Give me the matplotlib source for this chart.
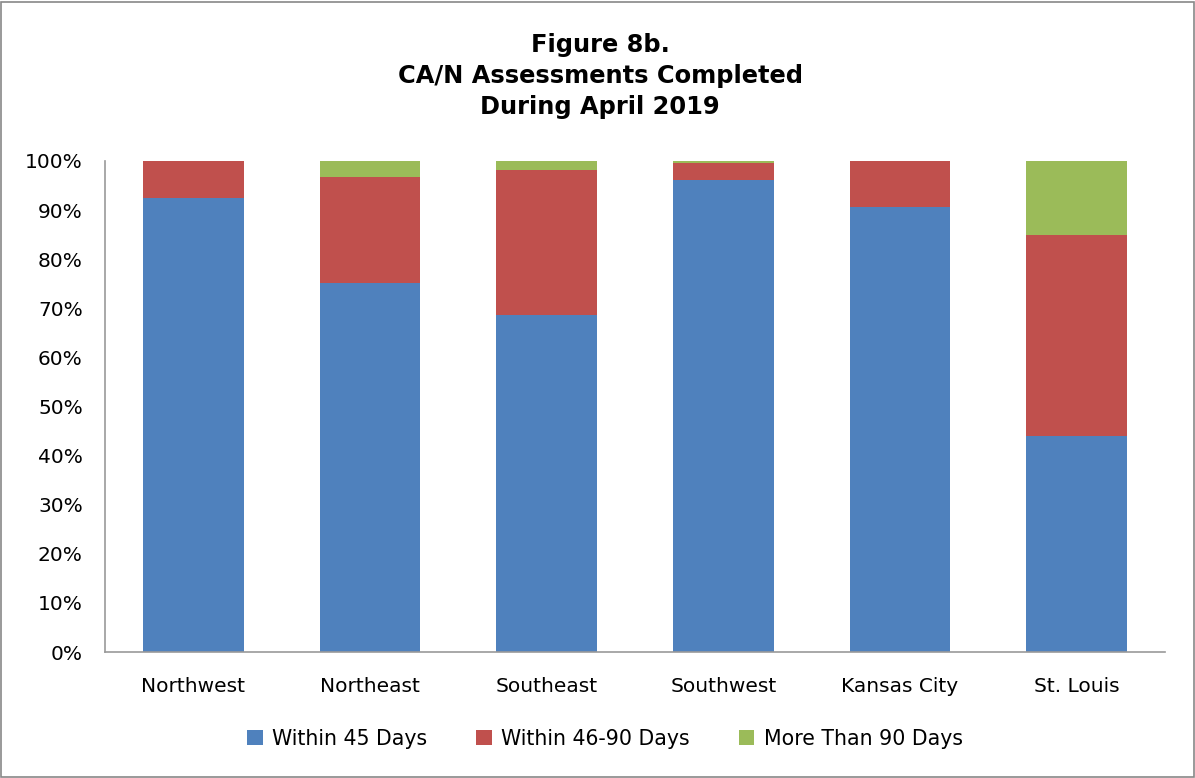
import matplotlib
matplotlib.use("Agg")
import matplotlib.pyplot as plt
from matplotlib.patches import Rectangle
import numpy as np

categories = ["Northwest", "Northeast", "Southeast", "Southwest", "Kansas City", "St. Louis"]
within_45 = [92.5, 75.2, 68.6, 96.1, 90.6, 44.0]
within_46_90 = [7.5, 21.5, 29.6, 3.5, 9.4, 40.9]
more_90 = [0.0, 3.3, 1.8, 0.4, 0.0, 15.1]
series_labels = ["Within 45 Days", "Within 46-90 Days", "More Than 90 Days"]
colors = ["#4F81BD", "#C0504D", "#9BBB59"]
title = "Figure 8b.\nCA/N Assessments Completed\nDuring April 2019"

plt.rcParams['font.family'] = ['DejaVu Sans']

fig = plt.figure(figsize=(11.95, 7.78), dpi=100)
ax = fig.add_axes([105/1195, 1-652/778, (1165-105)/1195, (652-161)/778])

x = np.arange(len(categories))
w = 0.57
b1 = np.array(within_45)
b2 = b1 + np.array(within_46_90)
ax.bar(x, within_45, w, color=colors[0], label=series_labels[0])
ax.bar(x, within_46_90, w, bottom=b1, color=colors[1], label=series_labels[1])
ax.bar(x, more_90, w, bottom=b2, color=colors[2], label=series_labels[2])

ax.set_xlim(-0.5, len(categories) - 0.5)
ax.set_ylim(0, 100)
ax.set_yticks(np.arange(0, 101, 10))
ax.set_yticklabels([f"{v}%" for v in range(0, 101, 10)], fontsize=14.5)
ax.set_xticks(x)
ax.set_xticklabels(categories, fontsize=14.5)
ax.tick_params(axis='x', length=0, pad=18)
ax.tick_params(axis='y', length=0, pad=16)
for s in ["top", "right"]:
    ax.spines[s].set_visible(False)
for s in ["left", "bottom"]:
    ax.spines[s].set_color("#999999")
    ax.spines[s].set_linewidth(1.2)

fig.text(600/1195, 1-76/778, title, ha="center", va="center", fontsize=17.4,
         fontweight="bold", linespacing=1.38)

leg = fig.legend(loc="center", bbox_to_anchor=(605/1195, 1-739/778), ncol=3,
                 frameon=False, fontsize=14.8, handlelength=0.75, handleheight=0.75,
                 handletextpad=0.45, columnspacing=2.4)

fig.patches.append(Rectangle((0.001, 0.001), 0.998, 0.997, transform=fig.transFigure,
                             fill=False, edgecolor="#888888", linewidth=1.2))

fig.savefig("out.png", dpi=100)
